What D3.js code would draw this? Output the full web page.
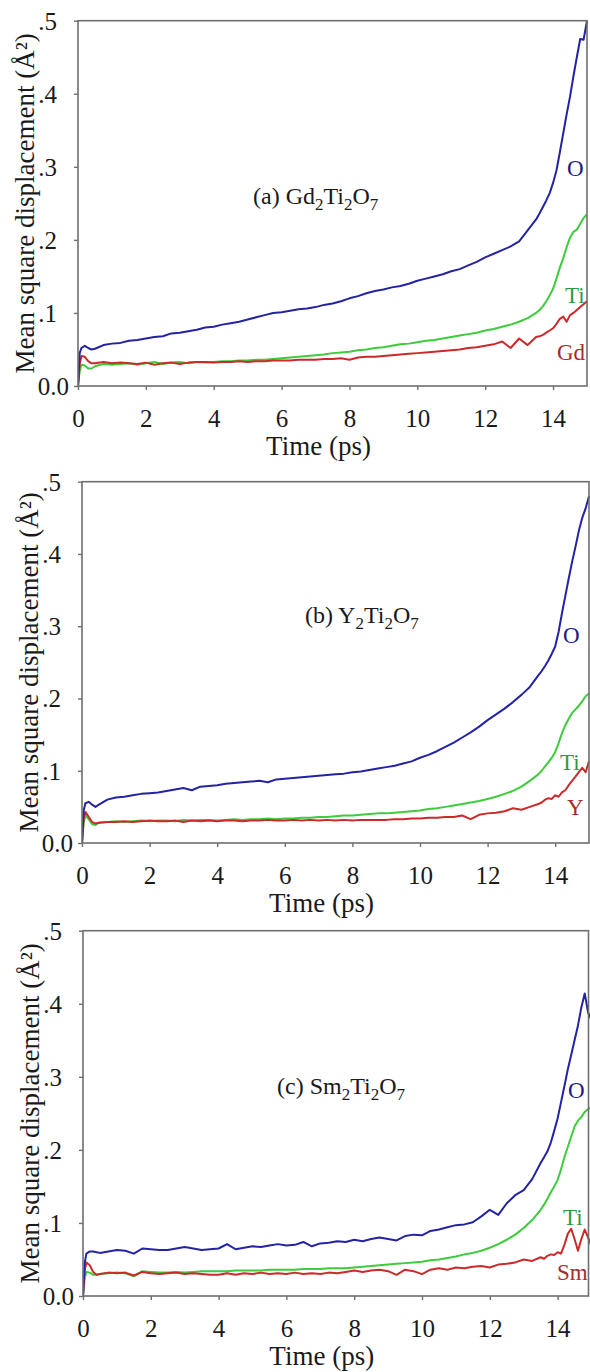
<!DOCTYPE html>
<html><head><meta charset="utf-8">
<script src="https://cdn.jsdelivr.net/npm/d3@7"></script>
<style>body{margin:0;background:#fff}svg{display:block}</style>
</head><body><svg id="c" width="590" height="1372"></svg>
<script>
// ---- data ----
const times = [0, 0.05, 0.1, 0.2, 0.3, 0.4,
  0.5, 0.75, 1, 1.25, 1.5, 1.75, 2, 2.25,
  2.5, 2.75, 3, 3.25, 3.5, 3.75, 4, 4.25,
  4.5, 4.75, 5, 5.25, 5.5, 5.75, 6, 6.25,
  6.5, 6.75, 7, 7.25, 7.5, 7.75, 8, 8.25,
  8.5, 8.75, 9, 9.25, 9.5, 9.75, 10, 10.25,
  10.5, 10.75, 11, 11.25, 11.5, 11.75, 12, 12.25,
  12.5, 12.75, 13, 13.25, 13.5,
  13.6, 13.7, 13.8, 13.9, 14, 14.1, 14.2, 14.3, 14.4, 14.5,
  14.6, 14.7, 14.8, 14.9, 15];

// (a) Gd2Ti2O7
const gdO = [0, 0.045, 0.052, 0.055, 0.052, 0.050,
  0.051, 0.056, 0.058, 0.059, 0.062, 0.063, 0.065, 0.067,
  0.068, 0.072, 0.073, 0.075, 0.077, 0.080, 0.081, 0.084,
  0.086, 0.088, 0.091, 0.094, 0.097, 0.100, 0.101, 0.103,
  0.105, 0.106, 0.108, 0.111, 0.113, 0.116, 0.120, 0.123,
  0.127, 0.130, 0.132, 0.135, 0.137, 0.140, 0.144, 0.147,
  0.150, 0.153, 0.157, 0.160, 0.165, 0.170, 0.176, 0.181,
  0.186, 0.191, 0.198, 0.213, 0.228,
  0.236, 0.245, 0.254, 0.264, 0.278, 0.295, 0.320, 0.346, 0.372, 0.396,
  0.424, 0.450, 0.475, 0.474, 0.500];
const gdTi = [0, 0.020, 0.029, 0.028, 0.024, 0.024,
  0.027, 0.030, 0.029, 0.030, 0.031, 0.029, 0.031, 0.033,
  0.030, 0.032, 0.033, 0.031, 0.033, 0.032, 0.033, 0.034,
  0.034, 0.035, 0.035, 0.036, 0.036, 0.037, 0.038, 0.039,
  0.040, 0.041, 0.042, 0.043, 0.045, 0.046, 0.047, 0.049,
  0.050, 0.052, 0.053, 0.055, 0.057, 0.058, 0.060, 0.062,
  0.063, 0.065, 0.067, 0.069, 0.071, 0.073, 0.076, 0.078,
  0.081, 0.084, 0.088, 0.093, 0.100,
  0.104, 0.109, 0.116, 0.124, 0.133, 0.147, 0.162, 0.175, 0.190, 0.203,
  0.211, 0.214, 0.222, 0.230, 0.235];
const gdGd = [0, 0.030, 0.041, 0.040, 0.034, 0.031,
  0.031, 0.033, 0.031, 0.032, 0.031, 0.030, 0.032, 0.029,
  0.031, 0.032, 0.030, 0.032, 0.033, 0.033, 0.032, 0.033,
  0.033, 0.034, 0.033, 0.034, 0.034, 0.035, 0.035, 0.035,
  0.036, 0.036, 0.036, 0.037, 0.037, 0.038, 0.036, 0.039,
  0.040, 0.040, 0.041, 0.042, 0.043, 0.044, 0.045, 0.046,
  0.047, 0.048, 0.049, 0.050, 0.052, 0.053, 0.055, 0.057,
  0.061, 0.052, 0.065, 0.056, 0.067,
  0.068, 0.070, 0.073, 0.076, 0.079, 0.085, 0.092, 0.095, 0.088, 0.097,
  0.100, 0.104, 0.108, 0.112, 0.116];

// (b) Y2Ti2O7
const yO = [0, 0.045, 0.055, 0.057, 0.053, 0.050,
  0.053, 0.060, 0.063, 0.064, 0.066, 0.068, 0.069, 0.070,
  0.072, 0.074, 0.076, 0.073, 0.078, 0.079, 0.080, 0.082,
  0.083, 0.084, 0.085, 0.086, 0.084, 0.088, 0.089, 0.090,
  0.091, 0.092, 0.093, 0.094, 0.095, 0.096, 0.098, 0.099,
  0.101, 0.103, 0.105, 0.107, 0.110, 0.113, 0.118, 0.122,
  0.127, 0.133, 0.139, 0.146, 0.153, 0.161, 0.170, 0.178,
  0.186, 0.195, 0.205, 0.216, 0.232,
  0.238, 0.245, 0.253, 0.262, 0.272, 0.292, 0.318, 0.342, 0.366, 0.389,
  0.410, 0.432, 0.450, 0.463, 0.480];
const yTi = [0, 0.028, 0.038, 0.033, 0.026, 0.025,
  0.028, 0.029, 0.030, 0.029, 0.030, 0.031, 0.030, 0.031,
  0.031, 0.030, 0.032, 0.031, 0.032, 0.032, 0.031, 0.032,
  0.033, 0.032, 0.033, 0.033, 0.034, 0.033, 0.034, 0.034,
  0.035, 0.035, 0.036, 0.036, 0.037, 0.038, 0.038, 0.039,
  0.040, 0.041, 0.041, 0.042, 0.043, 0.044, 0.045, 0.047,
  0.048, 0.050, 0.052, 0.054, 0.056, 0.058, 0.061, 0.064,
  0.068, 0.072, 0.078, 0.086, 0.095,
  0.100, 0.106, 0.112, 0.118, 0.126, 0.138, 0.152, 0.163, 0.172, 0.180,
  0.185, 0.190, 0.196, 0.203, 0.207];
const yY = [0, 0.035, 0.043, 0.036, 0.029, 0.027,
  0.028, 0.029, 0.029, 0.030, 0.029, 0.030, 0.031, 0.030,
  0.030, 0.031, 0.029, 0.031, 0.030, 0.031, 0.030, 0.031,
  0.031, 0.030, 0.031, 0.031, 0.032, 0.031, 0.031, 0.032,
  0.031, 0.032, 0.031, 0.032, 0.031, 0.032, 0.031, 0.032,
  0.032, 0.032, 0.032, 0.033, 0.033, 0.034, 0.034, 0.035,
  0.035, 0.036, 0.036, 0.038, 0.033, 0.039, 0.041, 0.042,
  0.044, 0.048, 0.046, 0.050, 0.054,
  0.056, 0.060, 0.062, 0.061, 0.066, 0.064, 0.070, 0.073, 0.080, 0.086,
  0.092, 0.098, 0.104, 0.098, 0.113];

// (c) Sm2Ti2O7
const smO = [0, 0.045, 0.058, 0.061, 0.061, 0.060,
  0.059, 0.061, 0.063, 0.062, 0.058, 0.065, 0.064, 0.063,
  0.063, 0.065, 0.067, 0.065, 0.063, 0.064, 0.065, 0.071,
  0.064, 0.066, 0.068, 0.067, 0.069, 0.071, 0.069, 0.070,
  0.074, 0.068, 0.072, 0.073, 0.075, 0.074, 0.077, 0.075,
  0.078, 0.080, 0.078, 0.076, 0.082, 0.084, 0.083, 0.089,
  0.091, 0.094, 0.097, 0.098, 0.101, 0.109, 0.118, 0.111,
  0.127, 0.138, 0.145, 0.160, 0.182,
  0.190, 0.198, 0.210, 0.226, 0.243, 0.265, 0.287, 0.310, 0.330, 0.350,
  0.370, 0.395, 0.414, 0.388, 0.378];
const smTi = [0, 0.025, 0.033, 0.032, 0.029, 0.029,
  0.030, 0.031, 0.032, 0.031, 0.027, 0.034, 0.033, 0.032,
  0.032, 0.033, 0.032, 0.033, 0.034, 0.034, 0.034, 0.034,
  0.035, 0.035, 0.035, 0.035, 0.036, 0.036, 0.036, 0.036,
  0.037, 0.037, 0.037, 0.038, 0.038, 0.038, 0.039, 0.040,
  0.041, 0.042, 0.043, 0.044, 0.045, 0.046, 0.047, 0.049,
  0.050, 0.052, 0.054, 0.057, 0.059, 0.062, 0.066, 0.071,
  0.077, 0.084, 0.093, 0.104, 0.118,
  0.125, 0.133, 0.142, 0.150, 0.159, 0.173, 0.190, 0.204, 0.218, 0.232,
  0.240, 0.245, 0.252, 0.256, 0.258];
const smSm = [0, 0.035, 0.046, 0.042, 0.033, 0.029,
  0.030, 0.032, 0.031, 0.032, 0.028, 0.033, 0.031, 0.030,
  0.031, 0.032, 0.030, 0.031, 0.030, 0.029, 0.029, 0.031,
  0.029, 0.031, 0.030, 0.032, 0.030, 0.031, 0.030, 0.032,
  0.030, 0.031, 0.030, 0.032, 0.031, 0.033, 0.035, 0.033,
  0.035, 0.036, 0.034, 0.029, 0.036, 0.034, 0.030, 0.036,
  0.038, 0.036, 0.039, 0.038, 0.040, 0.041, 0.039, 0.043,
  0.044, 0.046, 0.050, 0.048, 0.053,
  0.051, 0.055, 0.057, 0.056, 0.060, 0.058, 0.070, 0.085, 0.092, 0.078,
  0.062, 0.078, 0.091, 0.080, 0.068];

const xTicks = [0, 2, 4, 6, 8, 10, 12, 14];
const yTicks = [0, 0.1, 0.2, 0.3, 0.4, 0.5];
const yTickLabels = ["0.0", ".1", ".2", ".3", ".4", ".5"];
const xAxisTitle = "Time (ps)";
const yAxisTitle = "Mean square displacement (Å²)";
const titleA = [["(a) Gd", 0], ["2", 1], ["Ti", 0], ["2", 1], ["O", 0], ["7", 1]];
const titleB = [["(b) Y", 0], ["2", 1], ["Ti", 0], ["2", 1], ["O", 0], ["7", 1]];
const titleC = [["(c) Sm", 0], ["2", 1], ["Ti", 0], ["2", 1], ["O", 0], ["7", 1]];
const namesA = ["O", "Ti", "Gd"];
const namesB = ["O", "Ti", "Y"];
const namesC = ["O", "Ti", "Sm"];

// ---- styles / layout ----
const FONT = "'Liberation Serif','Times New Roman',serif";
const lineColors = ["#2323a3", "#3ccc3c", "#cc2a2a"];
const labelColors = ["#1c1c84", "#2e9a3e", "#a82a2a"];

const panels = [
  {title: titleA, names: namesA, values: [gdO, gdTi, gdGd],
   left: 78, right: 587, top: 20.7, bottom: 386, frameRight: 587,
   titlePos: [253, 204],
   labelPos: [[567, 176], [565, 303], [557, 360]]},
  {title: titleB, names: namesB, values: [yO, yTi, yY],
   left: 82, right: 589, top: 481.7, bottom: 843, frameRight: 589,
   titlePos: [305, 623],
   labelPos: [[563, 643], [560, 770], [567, 815]]},
  {title: titleC, names: namesC, values: [smO, smTi, smSm],
   left: 83, right: 591.5, top: 930.7, bottom: 1296, frameRight: 588.5,
   titlePos: [277, 1094],
   labelPos: [[568, 1098], [563, 1225], [557, 1280]]}
];

const svg = d3.select("#c");
svg.append("rect").attr("width", 590).attr("height", 1372).attr("fill", "#fff");

panels.forEach((p, pi) => {
  const x = d3.scaleLinear().domain([0, 15]).range([p.left, p.right]);
  const y = d3.scaleLinear().domain([0, 0.5]).range([p.bottom, p.top]);
  const g = svg.append("g");

  const clipId = "clip" + pi;
  svg.append("clipPath").attr("id", clipId).append("rect")
    .attr("x", p.left).attr("y", p.top - 2)
    .attr("width", 590 - p.left).attr("height", p.bottom - p.top + 2);

  // series lines: Ti, metal, then O
  const order = [1, 2, 0];
  order.forEach(si => {
    const pts = times.map((t, i) => [t, p.values[si][i]]);
    g.append("path")
      .datum(pts)
      .attr("clip-path", `url(#${clipId})`)
      .attr("fill", "none")
      .attr("stroke", lineColors[si])
      .attr("stroke-width", 2)
      .attr("stroke-linejoin", "round")
      .attr("d", d3.line().x(d => x(d[0])).y(d => y(d[1])));
  });

  // frame
  g.append("rect")
    .attr("x", p.left).attr("y", p.top)
    .attr("width", p.frameRight - p.left).attr("height", p.bottom - p.top)
    .attr("fill", "none").attr("stroke", "#6f6f6f").attr("stroke-width", 1.6);

  // x axis
  const xa = g.append("g").attr("transform", `translate(0,${p.bottom})`)
    .call(d3.axisBottom(x).tickValues(xTicks).tickSize(4).tickPadding(18).tickFormat(d3.format("d")));
  xa.select(".domain").remove();
  xa.selectAll(".tick line").attr("stroke", "#6f6f6f").attr("stroke-width", 1.4);
  xa.selectAll(".tick text").attr("font-family", FONT).attr("font-size", 25)
    .attr("fill", "#1a1a1a").attr("dy", 0).attr("y", 41);

  // y axis
  const ya = g.append("g").attr("transform", `translate(${p.left},0)`)
    .call(d3.axisLeft(y).tickValues(yTicks).tickSize(4).tickFormat((d, i) => yTickLabels[i]));
  ya.select(".domain").remove();
  ya.selectAll(".tick line").attr("stroke", "#6f6f6f").attr("stroke-width", 1.4);
  ya.selectAll(".tick text").attr("font-family", FONT).attr("font-size", 25)
    .attr("fill", "#1a1a1a").attr("dy", "0.34em")
    .attr("x", (d, i) => i === 0 ? -9 : -21);

  // axis titles
  g.append("text")
    .attr("x", (p.left + p.frameRight) / 2 - 14).attr("y", p.bottom + 69)
    .attr("text-anchor", "middle").attr("font-family", FONT).attr("font-size", 27)
    .attr("fill", "#1a1a1a").text(xAxisTitle);
  g.append("text")
    .attr("transform", `translate(${p.left - 44},${(p.top + p.bottom) / 2}) rotate(-90)`)
    .attr("text-anchor", "middle").attr("font-family", FONT).attr("font-size", 27)
    .attr("fill", "#1a1a1a").text(yAxisTitle);

  // panel title with subscripts
  const tt = g.append("text").attr("x", p.titlePos[0]).attr("y", p.titlePos[1])
    .attr("font-family", FONT).attr("font-size", 24).attr("fill", "#1a1a1a");
  p.title.forEach(([s, sub], k) => {
    const ts = tt.append("tspan").text(s);
    if (sub) ts.attr("font-size", 17).attr("dy", 6);
    else if (k > 0) ts.attr("dy", -6);
  });

  // series labels
  p.names.forEach((n, si) => {
    g.append("text").attr("x", p.labelPos[si][0]).attr("y", p.labelPos[si][1])
      .attr("font-family", FONT).attr("font-size", 23).attr("fill", labelColors[si]).text(n);
  });
});
</script>
</body></html>
